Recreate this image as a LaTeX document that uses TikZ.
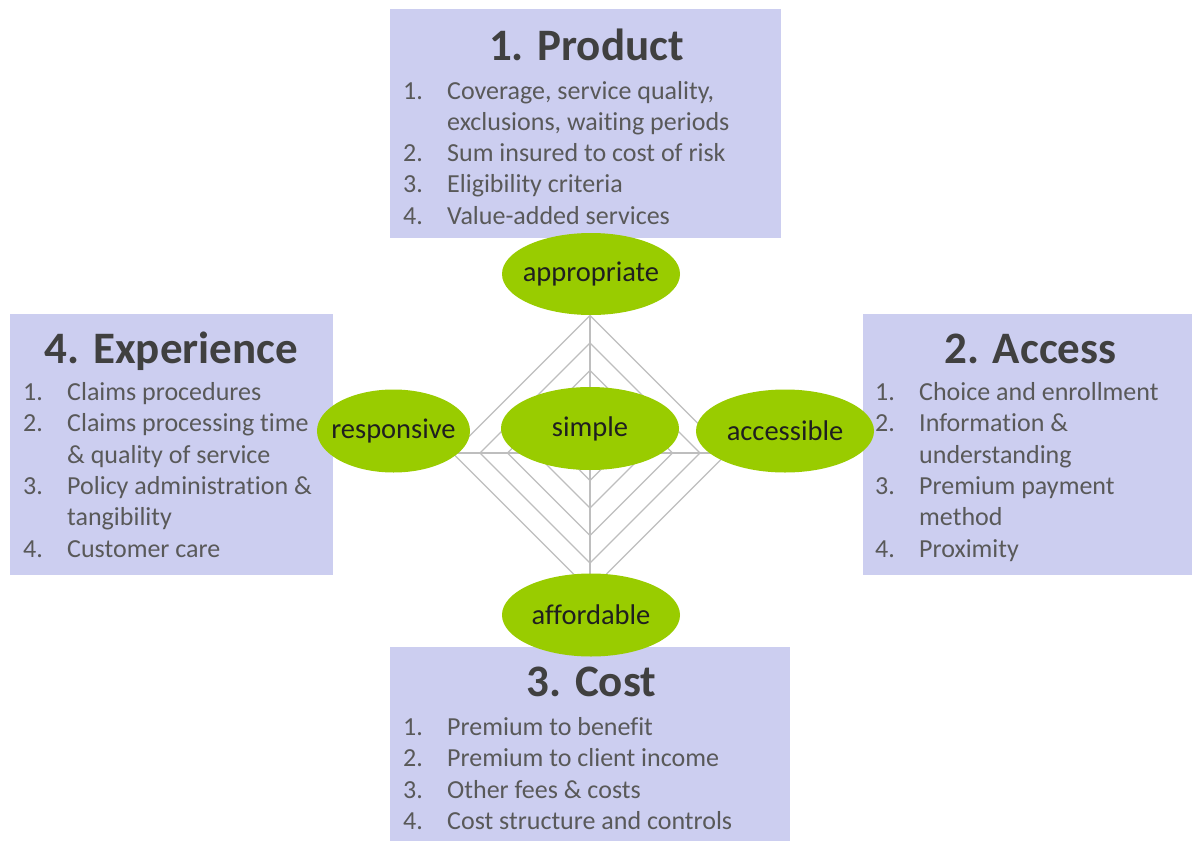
\documentclass[tikz,border=0pt]{standalone}
\usepackage{fontspec}
\setmainfont{Carlito}[Ligatures=CommonOff]
\usetikzlibrary{shapes.geometric}
\definecolor{boxblue}{RGB}{204,206,240}
\definecolor{leafgreen}{RGB}{153,204,0}
\definecolor{gridgray}{RGB}{190,190,190}
\definecolor{titlegray}{RGB}{64,64,64}
\definecolor{itemgray}{RGB}{89,89,89}

\begin{document}
\begin{tikzpicture}[x=1pt, y=-1pt,
        pillar/.style={rectangle, fill=boxblue, inner sep=0pt},
        trait/.style={ellipse, fill=leafgreen, inner sep=-30pt, minimum width=178pt,
        minimum height=83pt, text=black!88, font=\fontsize{28.5}{30}\selectfont},
        head/.style={anchor=base, inner sep=0pt, text=titlegray,
        font=\fontsize{45}{48}\selectfont\bfseries},
        items/.style={anchor=base west, inner sep=0pt, text=itemgray,
        font=\fontsize{26}{31.3}\selectfont},
        gridline/.style={draw=gridgray, line width=1.2pt}]
        \def\plist#1{\begin{tabular}[t]{@{}p{44pt}@{}l@{}}#1\end{tabular}}

        \useasboundingbox (0,0) rectangle (1192,841);
        \fill[white] (0,0) rectangle (1192,841);

        \node[pillar, minimum width=391pt, minimum height=229pt] (product) at (585.5,123.5) {};
        \node[pillar, minimum width=323pt, minimum height=261pt] (experience) at (171.5,444.5) {};
        \node[pillar, minimum width=330pt, minimum height=261pt] (access) at (1028,444.5) {};
        \node[pillar, minimum width=400pt, minimum height=195pt] (cost) at (590,744.5) {};

        \coordinate (hub) at (590,453);
        \foreach \r in {27.5,55,...,137.5}
            \draw[gridline] (hub) ++(0,-\r) -- ++(\r,\r) -- ++(-\r,\r) -- ++(-\r,-\r) -- cycle;
        \draw[gridline] (hub) ++(0,-137.5) -- ++(0,275);
        \draw[gridline] (hub) ++(-137.5,0) -- ++(275,0);

        \node[trait, minimum height=82pt] (appropriate) at (591,274) {appropriate};
        \node[trait] (simple) at (590,428.5) {simple};
        \node[trait, minimum width=153pt] (responsive) at (393.5,431) {responsive};
        \node[trait] (accessible) at (785,431) {accessible};
        \node[trait] (affordable) at (591,615) {affordable};

        \node[head] (producthead) at (586.5,60) {1. Product};
        \node[head] (experiencehead) at (171.5,363) {4. Experience};
        \node[head] (accesshead) at (1030.5,363) {2. Access};
        \node[head] (costhead) at (591.5,696.5) {3. Cost};

        \node[items] (productlist) at (403,99) {\plist{
            1. & Coverage, service quality,\\
               & exclusions, waiting periods\\
            2. & Sum insured to cost of risk\\
            3. & Eligibility criteria\\
            4. & Value-added services}};
        \node[items] (experiencelist) at (23,400.5) {\plist{
            1. & Claims procedures\\
            2. & Claims processing time\\
               & \& quality of service\\
            3. & Policy administration \&\\
               & tangibility\\
            4. & Customer care}};
        \node[items] (accesslist) at (875,400.5) {\plist{
            1. & Choice and enrollment\\
            2. & Information \&\\
               & understanding\\
            3. & Premium payment\\
               & method\\
            4. & Proximity}};
        \node[items] (costlist) at (403,735.5) {\plist{
            1. & Premium to benefit\\
            2. & Premium to client income\\
            3. & Other fees \& costs\\
            4. & Cost structure and controls}};
    \end{tikzpicture}
\end{document}
